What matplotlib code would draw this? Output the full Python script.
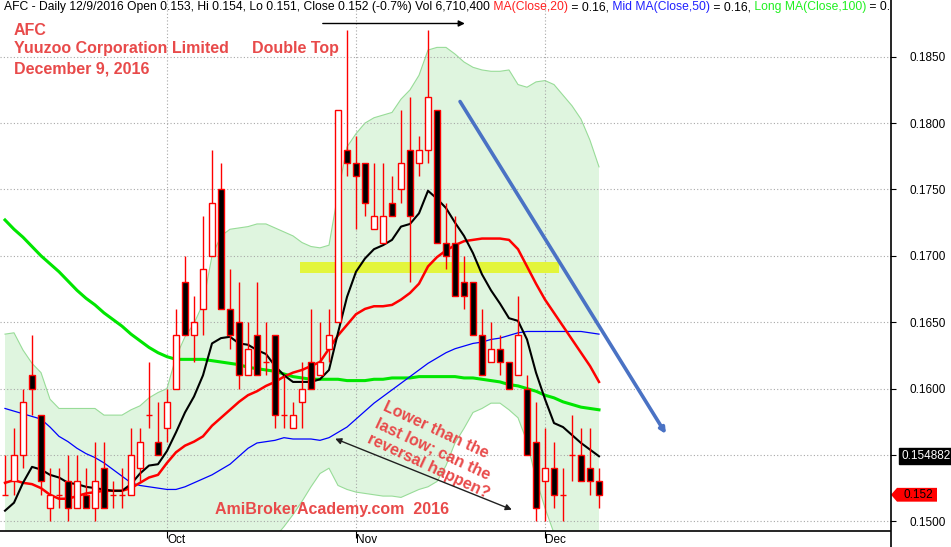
import matplotlib
matplotlib.use("Agg")
import matplotlib.pyplot as plt
from matplotlib.patches import Rectangle, Polygon
from matplotlib.lines import Line2D
import matplotlib.transforms as mtransforms

plt.rcParams['font.family'] = ['Liberation Sans', 'DejaVu Sans']

# AFC daily bars, one per trading day (index 0 = first bar on screen)
opens = [.152, .153, .155, .161, .158, .151, .152, .153, .151, .152, .151, .154, .152, .152, .152, .154, .158,
         .156, .157, .160, .168, .164, .166, .170, .175, .166, .165, .161, .164, .162, .164, .158, .157, .159,
         .162, .161, .163, .165, .178, .177, .177, .172, .171, .174, .175, .178, .177, .178, .181, .171, .171,
         .168, .168, .164, .162, .163, .162, .161, .160, .156, .153, .154, .152, .155, .155, .154, .153]
highs = [.155, .157, .160, .164, .158, .154, .154, .155, .155, .154, .156, .156, .153, .154, .157, .157, .162,
         .159, .160, .166, .170, .167, .173, .178, .177, .169, .168, .165, .168, .165, .164, .161, .159, .162,
         .166, .165, .166, .181, .187, .179, .177, .177, .177, .176, .181, .182, .179, .187, .181, .174, .173,
         .170, .168, .166, .165, .164, .162, .167, .161, .159, .157, .156, .154, .158, .157, .157, .154]
lows = [.152, .152, .154, .158, .152, .150, .151, .150, .151, .151, .150, .151, .151, .151, .152, .153, .157,
        .155, .156, .160, .164, .162, .164, .170, .166, .163, .160, .161, .161, .161, .157, .157, .157, .157,
        .160, .161, .162, .165, .176, .172, .173, .172, .171, .173, .174, .168, .176, .177, .171, .169, .167,
        .166, .164, .161, .162, .161, .160, .161, .155, .150, .150, .151, .150, .153, .153, .152, .151]
closes = [.152, .155, .159, .160, .153, .152, .152, .151, .153, .151, .153, .151, .152, .152, .155, .156, .158,
          .155, .159, .164, .164, .165, .169, .174, .166, .164, .161, .163, .161, .162, .158, .158, .158, .160,
          .160, .162, .164, .181, .177, .176, .174, .173, .173, .173, .177, .173, .178, .182, .171, .170, .167,
          .167, .164, .161, .163, .162, .160, .164, .155, .151, .154, .152, .152, .155, .153, .153, .152]

ma_short = [.1508, .1514, .1529, .1541, .1539, .1535, .1533, .1529, .1528, .1526, .1525, .1524, .1523, .1523,
            .1528, .1536, .1542, .1543, .1553, .1567, .1582, .1594, .1610, .1634, .1638, .1639, .1634, .1633,
            .1629, .1626, .1617, .1610, .1605, .1605, .1605, .1607, .1614, .1642, .1669, .1688, .1698, .1705,
            .1708, .1712, .1722, .1724, .1732, .1749, .1743, .1736, .1725, .1715, .1702, .1686, .1674, .1664,
            .1653, .1651, .1637, .1612, .1592, .1574, .1571, .1565, .1559, .1554, .1549]
ma20 = [.1529, .1531, .1529, .1528, .1525, .1520, .1517, .1517, .1519, .1521, .1522, .1523, .1523, .1523,
        .1525, .1529, .1533, .1535, .1544, .1552, .1557, .1560, .1564, .1572, .1578, .1584, .1590, .1595,
        .1598, .1602, .1605, .1609, .1612, .1614, .1617, .1620, .1630, .1640, .1648, .1656, .1660, .1662,
        .1662, .1663, .1667, .1672, .1679, .1692, .1699, .1704, .1708, .1711, .1712, .1713, .1713, .1713,
        .1712, .1705, .1692, .1679, .1667, .1657, .1647, .1637, .1627, .1617, .1605]
ma50 = [.1585, .1583, .1581, .1579, .1577, .1571, .1564, .1560, .1555, .1551, .1548, .1544, .1539, .1534,
        .1529, .1527, .1526, .1525, .1524, .1524, .1526, .1529, .1532, .1535, .1539, .1543, .1549, .1555,
        .1559, .1560, .1561, .1563, .1562, .1562, .1562, .1561, .1563, .1567, .1571, .1577, .1583, .1589,
        .1594, .1599, .1604, .1609, .1614, .1619, .1623, .1627, .1630, .1632, .1634, .1635, .1637, .1638,
        .1640, .1642, .1643, .1643, .1643, .1643, .1643, .1643, .1643, .1642, .1641]
ma100 = [.1727, .1720, .1714, .1707, .1700, .1694, .1688, .1681, .1674, .1668, .1663, .1657, .1652, .1647,
         .1641, .1636, .1631, .1627, .1624, .1622, .1622, .1622, .1622, .1621, .1620, .1619, .1618, .1616,
         .1615, .1614, .1613, .1611, .1609, .1608, .1607, .1607, .1607, .1607, .1606, .1606, .1606, .1607,
         .1607, .1608, .1608, .1608, .1609, .1609, .1609, .1609, .1609, .1608, .1608, .1607, .1606, .1605,
         .1603, .1602, .1600, .1598, .1595, .1593, .1590, .1588, .1586, .1585, .1584]
band_top = [.1641, .1642, .1629, .1619, .1612, .1592, .1585, .1585, .1585, .1585, .1585, .1580, .1580, .1580,
            .1584, .1587, .1593, .1597, .1600, .1624, .1639, .1649, .1664, .1700, .1715, .1720, .1721, .1722,
            .1724, .1724, .1721, .1718, .1715, .1710, .1707, .1706, .1708, .1747, .1782, .1792, .1800, .1804,
            .1806, .1808, .1818, .1825, .1836, .1855, .1857, .1857, .1852, .1846, .1842, .1840, .1839, .1839,
            .1840, .1829, .1827, .1831, .1832, .1829, .1821, .1813, .1803, .1787, .1767]
band_bot = [.1417, .1420, .1429, .1437, .1438, .1448, .1449, .1449, .1453, .1457, .1459, .1466, .1466, .1466,
            .1466, .1471, .1473, .1473, .1478, .1480, .1475, .1471, .1464, .1444, .1441, .1448, .1459, .1468,
            .1472, .1480, .1488, .1496, .1505, .1515, .1526, .1536, .1540, .1527, .1524, .1522, .1521, .1520,
            .1519, .1519, .1518, .1521, .1524, .1526, .1530, .1542, .1559, .1570, .1582, .1585, .1589, .1589,
            .1584, .1578, .1560, .1532, .1510, .1491, .1474, .1461, .1451, .1447, .1443]

month_pos = [18, 39, 60]
month_labels = ['Oct', 'Nov', 'Dec']
y_ticks = [0.150, 0.155, 0.160, 0.165, 0.170, 0.175, 0.180, 0.185]

RED_TXT = '#e84a4a'

fig = plt.figure(figsize=(9.51, 5.47), dpi=100)
ax = fig.add_axes([0, 16 / 547, 890 / 951, 531 / 547])
ax.set_xlim(-5 / 9, 885 / 9)
ax.set_ylim(0.14927, 0.18927)

x = list(range(len(closes)))

# bollinger style band
ax.fill_between(x, band_bot, band_top, color='#dff5df', lw=0, zorder=1)
ax.plot(x, band_top, color='#98dc98', lw=0.8, zorder=1.5)
ax.plot(x, band_bot, color='#98dc98', lw=0.8, zorder=1.5)

# yellow zone
ax.add_patch(Rectangle((32.8, 0.16873), 28.8, 0.00078, color='#e3f53c', lw=0, zorder=2))

ax.plot(x, ma100, color='#00e600', lw=2.2, zorder=3)
ax.plot(x, ma50, color='#0000ff', lw=0.9, zorder=3)
ax.plot(x, ma20, color='#ff0000', lw=1.8, zorder=3)
ax.plot(x, ma_short, color='black', lw=1.5, zorder=3)

# candles
w = 0.6
for i in x:
    o, h, l, c = opens[i], highs[i], lows[i], closes[i]
    ax.vlines(i, l, h, color='#ff0000', lw=1.0, zorder=4)
    if o == c:
        ax.hlines(c, i - w / 2 - 0.08, i + w / 2 + 0.08, color='#ff0000', lw=1.0, zorder=5)
    else:
        face = 'white' if c > o else 'black'
        ax.bar(i, abs(c - o), w, bottom=min(o, c), color=face, edgecolor='#ff0000', lw=1.0, zorder=5)

# grid + axes
ax.set_yticks(y_ticks)
# 0.1550 sits under the black value flag
ax.set_yticklabels(['' if abs(v - 0.155) < 1e-9 else '%.4f' % v for v in y_ticks])
ax.set_xticks(month_pos)
ax.set_xticklabels(month_labels, ha='left')
ax.grid(True, color='#a8a8a8', ls=(0, (1, 2)), lw=0.8, zorder=0)
ax.yaxis.tick_right()
ax.tick_params(axis='y', length=4, pad=10, labelsize=8.5, colors='black')
ax.tick_params(axis='x', length=5, pad=-3, labelsize=8.5)
ax.spines['left'].set_visible(False)
ax.spines['top'].set_visible(False)
ax.spines['right'].set_visible(False)
ax.spines['bottom'].set_linewidth(1.2)
fig.add_artist(Line2D([890.5 / 951] * 2, [0, 1], color='black', lw=1.2, transform=fig.transFigure))
ax.set_facecolor('white')

# header line with coloured pieces
pieces = [("AFC - Daily 12/9/2016 Open 0.153, Hi 0.154, Lo 0.151, Close 0.152 (-0.7%) Vol 6,710,400", 'black'),
          (" MA(Close,20)", '#ff2020'), (" = 0.16,", 'black'), (" Mid MA(Close,50)", '#2020ff'),
          (" = 0.16,", 'black'), (" Long MA(Close,100)", '#20f020'), (" = 0.16", 'black')]
prev = ax.text(4 / 890, 1 - 1 / 531, pieces[0][0], color=pieces[0][1], transform=ax.transAxes,
               fontsize=8.7, va='top', ha='left', clip_on=True, zorder=10)
for txt, col in pieces[1:]:
    prev = ax.annotate(txt, xy=(1, 0), xycoords=prev, color=col, fontsize=8.7, va='bottom', ha='left',
                       annotation_clip=False, clip_on=True, zorder=10)

# notes
ax.text(1.0, 0.18663, 'AFC', color=RED_TXT, fontsize=11.5, fontweight='bold', zorder=10)
ax.text(1.0, 0.18524, 'Yuuzoo Corporation Limited', color=RED_TXT, fontsize=11.5, fontweight='bold', zorder=10)
ax.text(1.0, 0.18377, 'December 9, 2016', color=RED_TXT, fontsize=11.5, fontweight='bold', zorder=10)
ax.text(27.4, 0.18524, 'Double Top', color=RED_TXT, fontsize=11.5, fontweight='bold', zorder=10)
ax.text(23.3, 0.15055, 'AmiBrokerAcademy.com  2016', color=RED_TXT, fontsize=11.5, fontweight='bold', zorder=10)
ax.text(42.4, 0.15920, 'Lower than the\nlast low; can the\nreversal happen?', color=RED_TXT, fontsize=11.5,
        fontweight='bold', rotation=-25, rotation_mode='anchor', ha='left', va='top', linespacing=1.25,
        zorder=10)

ax.annotate('', xy=(51.4, 0.1875), xytext=(35.0, 0.1875),
            arrowprops=dict(arrowstyle='-|>', color='black', lw=1.0, mutation_scale=9), zorder=10)
ax.annotate('', xy=(56.6, 0.1508), xytext=(36.4, 0.1563),
            arrowprops=dict(arrowstyle='<|-|>', color='#202020', lw=1.0, mutation_scale=9), zorder=10)
ax.annotate('', xy=(73.6, 0.1564), xytext=(50.4, 0.1818),
            arrowprops=dict(arrowstyle='-|>', color='#4a72c4', lw=2.6, mutation_scale=8), zorder=10)

# value flags on the price axis
tr = mtransforms.blended_transform_factory(ax.transAxes, ax.transData)
ax.text(1 + 11 / 890, ma_short[-1], '%.6f' % 0.154882, transform=tr, color='white', fontsize=8.5,
        va='center', ha='left', bbox=dict(boxstyle='square,pad=0.15', fc='black', ec='black'), clip_on=False)
c = closes[-1]
hh = 0.00052
ax.add_patch(Polygon([(1 + 1 / 890, c), (1 + 7 / 890, c + hh), (1 + 47 / 890, c + hh),
                      (1 + 47 / 890, c - hh), (1 + 7 / 890, c - hh)], closed=True, transform=tr,
                     fc='#ff0000', ec='none', clip_on=False, zorder=10))
ax.text(1 + 13 / 890, c, '%.3f' % c, transform=tr, color='black', fontsize=8.5, va='center', ha='left',
        clip_on=False, zorder=11)

fig.savefig('out.png', dpi=100)
